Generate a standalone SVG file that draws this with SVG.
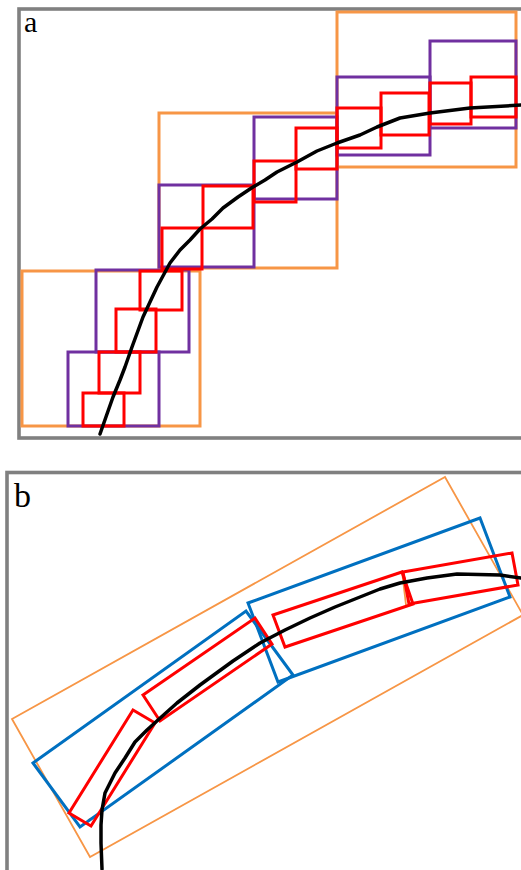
<svg xmlns="http://www.w3.org/2000/svg" width="521" height="870" viewBox="0 0 521 870">
<style>
.frame{fill:none;stroke:#808080;stroke-width:3.6}
.lbl{font-family:"Liberation Serif",serif;fill:#000}
.or{fill:none;stroke:#F79646;stroke-width:3}
.or2{fill:none;stroke:#F79646;stroke-width:1.8}
.pu{fill:none;stroke:#7030A0;stroke-width:3}
.rd{fill:none;stroke:#FF0000;stroke-width:3}
.bl{fill:none;stroke:#0070C0;stroke-width:3}
.cv{fill:none;stroke:#000;stroke-width:3.5;stroke-linejoin:round;stroke-linecap:round}
</style>
<rect width="521" height="870" fill="#fff"/>
<g id="panel-a">
<rect class="frame" x="19" y="9" width="520" height="429"/>
<text class="lbl" x="24" y="32" font-size="30">a</text>
<g id="a-orange">
<rect id="ao1" class="or" x="22" y="271" width="178" height="155"/>
<rect id="ao2" class="or" x="159" y="113" width="178" height="155"/>
<rect id="ao3" class="or" x="337" y="12" width="179" height="155"/>
</g>
<g id="a-purple">
<rect id="ap1" class="pu" x="68" y="352" width="91" height="74"/>
<rect id="ap2" class="pu" x="96" y="270" width="93" height="82"/>
<rect id="ap3" class="pu" x="159" y="185" width="95" height="82"/>
<rect id="ap4" class="pu" x="254" y="117" width="83" height="82"/>
<rect id="ap5" class="pu" x="337" y="77" width="93" height="78"/>
<rect id="ap6" class="pu" x="430" y="41" width="86" height="87"/>
</g>
<g id="a-red">
<rect id="ar1" class="rd" x="83" y="393" width="41" height="33"/>
<rect id="ar2" class="rd" x="99" y="352" width="41" height="41"/>
<rect id="ar3" class="rd" x="116" y="309" width="40" height="43"/>
<rect id="ar4" class="rd" x="140" y="271" width="42" height="39"/>
<rect id="ar5" class="rd" x="162" y="228" width="40" height="41"/>
<rect id="ar6" class="rd" x="203" y="186" width="50" height="42"/>
<rect id="ar7" class="rd" x="254" y="161" width="42" height="41"/>
<rect id="ar8" class="rd" x="296" y="128" width="41" height="41"/>
<rect id="ar9" class="rd" x="337" y="108" width="44" height="40"/>
<rect id="ar10" class="rd" x="381" y="93" width="48" height="42"/>
<rect id="ar11" class="rd" x="430" y="83" width="41" height="41"/>
<rect id="ar12" class="rd" x="471" y="77" width="45" height="40"/>
</g>
</g>
<g id="panel-b">
<rect class="frame" x="7" y="472.5" width="530" height="420"/>
<text class="lbl" x="14" y="507" font-size="34">b</text>
<g id="b-orange">
<polygon id="bo1" class="or2" points="12,719 445,477 523,615 90,857"/>
<line class="or2" x1="402" y1="571" x2="406" y2="605"/>
<line class="or2" x1="88" y1="820" x2="102" y2="813"/>
</g>
<g id="b-blue">
<polygon id="bb1" class="bl" points="33,763 246,611 293,675 80,827"/>
<polygon id="bb2" class="bl" points="248,603 480,518 510,597 278,682"/>
</g>
<g id="b-red">
<polygon id="br1" class="rd" points="133,710 155,723 91,826 69,813"/>
<polygon id="br2" class="rd" points="143,695 255,618 272,644 160,721"/>
<polygon id="br3" class="rd" points="273,615 402,572 413,604 285,647"/>
<polygon id="br4" class="rd" points="403,572 512,553 518,585 409,604"/>
</g>
</g>
<g id="connectors">
<path class="cv" d="M100,434 L107,414 L113,397 L120,380 L125,367 L132,347 L143,317 L157,287 L170,263 L180,250 L190,240 L200,229 L212,219 L223,208 L238,197 L253,187 L265,180 L277,172 L297,162 L317,151 L337,143 L360,135 L377,127 L400,118 L430,113 L470,108 L521,105"/>
<path class="cv" d="M102,869 L101,843 L101,825 L102,810 L105,793 L110,783 L115,773 L125,758 L135,742 L147,730 L158,720 L177,703 L200,685 L233,661 L260,643 L285,630 L310,618 L335,607 L360,597 L380,589 L400,583 L427,578 L457,574 L500,575 L521,578"/>
</g>
</svg>
